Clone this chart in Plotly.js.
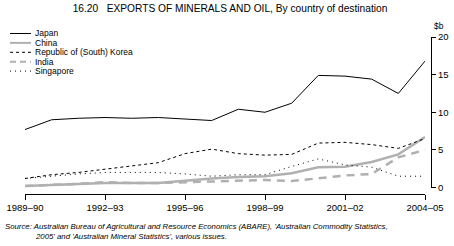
<!DOCTYPE html>
<html>
<head>
<meta charset="utf-8">
<script src="https://cdn.plot.ly/plotly-3.0.1.min.js"></script>
<style>
  html, body { margin: 0; padding: 0; background: #fff; }
  #chart { width: 454px; height: 246px; }
</style>
</head>
<body>
<div id="chart"></div>
<script>
// financial years, 1989–90 to 2004–05
const years = ['1989–90', '1990–91', '1991–92', '1992–93', '1993–94', '1994–95', '1995–96', '1996–97',
  '1997–98', '1998–99', '1999–00', '2000–01', '2001–02', '2002–03', '2003–04', '2004–05'];
const tickYears = ['1989–90', '1992–93', '1995–96', '1998–99', '2001–02', '2004–05'];

// exports, $b
const japan = [7.7, 9.0, 9.2, 9.3, 9.2, 9.3, 9.1, 8.9, 10.4, 10.0, 11.2, 14.9, 14.8, 14.4, 12.5, 16.8];
const china = [0.2, 0.3, 0.5, 0.6, 0.6, 0.6, 0.9, 1.2, 1.4, 1.5, 1.9, 2.7, 2.75, 3.4, 4.4, 6.7];
const korea = [1.2, 1.7, 2.0, 2.4, 2.8, 3.3, 4.5, 5.1, 4.5, 4.3, 4.4, 5.9, 6.0, 5.7, 5.2, 6.5];
const india = [0.2, 0.3, 0.5, 0.7, 0.6, 0.6, 0.7, 0.8, 0.85, 1.0, 0.85, 1.2, 1.6, 1.8, 4.0, 5.0];
const singapore = [1.2, 1.5, 1.8, 2.0, 2.0, 2.0, 1.8, 1.5, 1.7, 1.7, 2.8, 3.8, 3.0, 2.7, 1.5, 1.5];

const yTicks = [0, 5, 10, 15, 20];

const GREY = '#b0b0b0';
const series = [
  {name: 'Japan', y: japan, color: '#000', width: 1, dash: 'solid'},
  {name: 'China', y: china, color: GREY, width: 2.5, dash: 'solid'},
  {name: 'Republic of (South) Korea', y: korea, color: '#000', width: 1, dash: '3px,3px'},
  {name: 'India', y: india, color: GREY, width: 2.5, dash: '8px,6px'},
  {name: 'Singapore', y: singapore, color: '#000', width: 1, dash: '1px,4px'}
];

// plot area in pixels
const W = 454, H = 246;
const M = {l: 25, r: 23, t: 37, b: 52};
const plotW = W - M.l - M.r;
const plotH = H - M.t - M.b;
const px = x => (x - M.l) / plotW;
const py = y => (H - M.b - y) / plotH;

const FONT = 'Liberation Sans, Arial, sans-serif';

const traces = series.map(s => ({
  x: years, y: s.y, name: s.name, type: 'scatter', mode: 'lines',
  line: {color: s.color, width: s.width, dash: s.dash},
  showlegend: false, hoverinfo: 'skip'
}));

// hand-made legend (tight spacing like the original)
const legendTop = 33.5, legendStep = 9.4;
const shapes = series.map((s, i) => ({
  type: 'line', xref: 'paper', yref: 'paper',
  x0: px(10), x1: px(31), y0: py(legendTop + i * legendStep), y1: py(legendTop + i * legendStep),
  line: {color: s.color, width: s.width === 1 ? 1 : 2, dash: s.dash === '8px,6px' ? '6px,4px' : s.dash}
}));
const annotations = series.map((s, i) => ({
  xref: 'paper', yref: 'paper', x: px(33), y: py(legendTop + i * legendStep),
  xanchor: 'left', yanchor: 'middle', showarrow: false,
  text: s.name, font: {family: FONT, size: 8.5, color: '#000'}
}));

annotations.push({
  xref: 'paper', yref: 'paper', x: px(432), y: py(26), xanchor: 'left', yanchor: 'middle',
  showarrow: false, text: '$b', font: {family: FONT, size: 8.5, color: '#000'}
});
annotations.push({
  xref: 'paper', yref: 'paper', x: px(3), y: py(220), xanchor: 'left', yanchor: 'top',
  showarrow: false, align: 'left',
  text: "<i>Source: Australian Bureau of Agricultural and Resource Economics (ABARE), 'Australian Commodity Statistics,</i>",
  font: {family: FONT, size: 7.8, color: '#000'}
});
annotations.push({
  xref: 'paper', yref: 'paper', x: px(33), y: py(230), xanchor: 'left', yanchor: 'top',
  showarrow: false, align: 'left',
  text: "<i>2005' and 'Australian Mineral Statistics', various issues.</i>",
  font: {family: FONT, size: 7.8, color: '#000'}
});

const layout = {
  width: W, height: H,
  margin: M,
  paper_bgcolor: '#fff', plot_bgcolor: '#fff',
  font: {family: FONT, size: 9, color: '#000'},
  title: {
    text: '16.20   EXPORTS OF MINERALS AND OIL, By country of destination',
    xref: 'paper', x: px(230), xanchor: 'center',
    yref: 'container', y: 1 - 8 / H, yanchor: 'middle',
    font: {family: FONT, size: 10.2, color: '#000'}
  },
  xaxis: {
    type: 'category', domain: [0, 400 / plotW], range: [0, 15],
    anchor: 'free', position: 0,
    showgrid: false, zeroline: false,
    showline: true, linecolor: '#000', linewidth: 1,
    ticks: 'outside', ticklen: 5, tickcolor: '#000', tickwidth: 1,
    tickvals: tickYears, ticktext: tickYears,
    tickfont: {family: FONT, size: 9.5}
  },
  yaxis: {
    domain: [(H - M.b - 187.5) / plotH, 1], range: [0, 20],
    side: 'right', anchor: 'free', position: 1,
    showgrid: false, zeroline: false,
    showline: true, linecolor: '#000', linewidth: 1,
    ticks: 'outside', ticklen: 4, tickcolor: '#000', tickwidth: 1,
    tickvals: yTicks, ticktext: yTicks.map(String),
    tickfont: {family: FONT, size: 9.5}
  },
  shapes: shapes,
  annotations: annotations
};

Plotly.newPlot('chart', traces, layout, {staticPlot: true, displayModeBar: false});
</script>
</body>
</html>
